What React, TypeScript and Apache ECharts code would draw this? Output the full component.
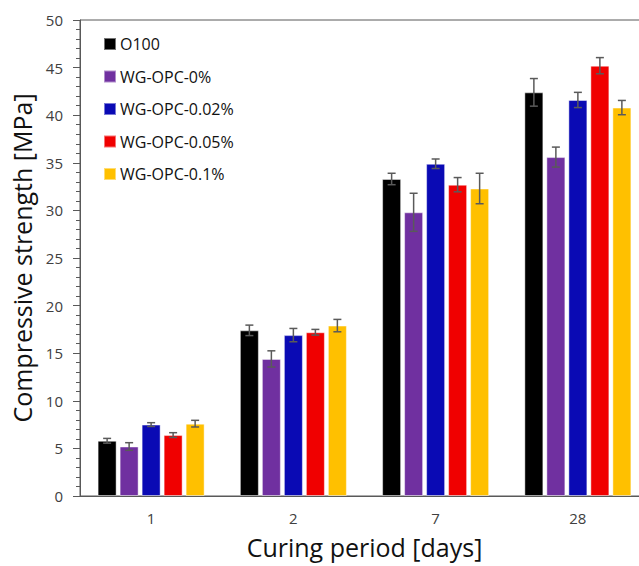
import React, { useEffect, useRef } from "react";
import * as echarts from "echarts";

const categories = ["1", "2", "7", "28"];
const seriesNames = ["O100", "WG-OPC-0%", "WG-OPC-0.02%", "WG-OPC-0.05%", "WG-OPC-0.1%"];
const colors = ["#000000", "#7030A0", "#0A0AB4", "#F00000", "#FFC000"];

const o100 = [5.8, 17.4, 33.3, 42.4];
const o100Err = [0.25, 0.55, 0.6, 1.45];
const wg0 = [5.2, 14.4, 29.8, 35.6];
const wg0Err = [0.4, 0.85, 2.0, 1.05];
const wg002 = [7.5, 16.9, 34.9, 41.6];
const wg002Err = [0.2, 0.7, 0.5, 0.8];
const wg005 = [6.4, 17.2, 32.7, 45.2];
const wg005Err = [0.25, 0.3, 0.75, 0.85];
const wg01 = [7.6, 17.9, 32.3, 40.8];
const wg01Err = [0.35, 0.65, 1.6, 0.75];

const means = [o100, wg0, wg002, wg005, wg01];
const errs = [o100Err, wg0Err, wg002Err, wg005Err, wg01Err];

const FONT = "Open Sans";
const BAR_W = 19;
const BAR_STEP = 22;

export default function App() {
  const ref = useRef<HTMLDivElement>(null);
  useEffect(() => {
    document.body.style.margin = "0";
    document.body.style.overflow = "hidden";
    document.documentElement.style.overflow = "hidden";
    const chart = echarts.init(ref.current!, null, { renderer: "svg" });
    const barSeries = seriesNames.map((name, i) => ({
      name,
      type: "bar",
      data: means[i],
      barWidth: BAR_W,
      barGap: "15.8%",
      itemStyle: { color: colors[i], borderColor: "rgba(255,255,255,0.45)", borderWidth: 1 },
      z: 2,
    }));
    const errSeries = seriesNames.map((name, i) => ({
      name: name + "-err",
      type: "custom",
      z: 5,
      data: means[i].map((m, k) => [k, m, errs[i][k]]),
      renderItem: (params: any, api: any) => {
        const k = api.value(0);
        const m = api.value(1);
        const e = api.value(2);
        const top = api.coord([k, m + e]);
        const bot = api.coord([k, m - e]);
        const x = top[0] + (i - 2) * BAR_STEP;
        const style = { stroke: "#5a5a5a", lineWidth: 1.5 };
        return {
          type: "group",
          children: [
            { type: "line", shape: { x1: x, y1: top[1], x2: x, y2: bot[1] }, style },
            { type: "line", shape: { x1: x - 4, y1: top[1], x2: x + 4, y2: top[1] }, style },
            { type: "line", shape: { x1: x - 4, y1: bot[1], x2: x + 4, y2: bot[1] }, style },
          ],
        };
      },
    }));
    chart.setOption({
      animation: false,
      textStyle: { fontFamily: FONT },
      grid: {
        left: 80,
        right: 11,
        top: 20,
        bottom: 70,
        show: true,
        borderColor: "#595959",
        borderWidth: 1,
        backgroundColor: "transparent",
      },
      legend: {
        data: seriesNames,
        orient: "vertical",
        left: 98,
        top: 29,
        itemWidth: 12,
        itemGap: 12.5,
        itemHeight: 12,
        icon: "rect",
        textStyle: { fontFamily: FONT, fontSize: 16, color: "#111", lineHeight: 20, padding: [0, 0, 0, -1] },
      },
      xAxis: {
        type: "category",
        data: categories,
        name: "Curing period [days]",
        nameLocation: "middle",
        nameGap: 38,
        nameTextStyle: { fontFamily: FONT, fontSize: 25, color: "#111" },
        axisLine: { lineStyle: { color: "#595959", width: 1 } },
        axisTick: { alignWithLabel: true, length: 5, lineStyle: { color: "#595959" } },
        axisLabel: { fontFamily: FONT, fontSize: 15, color: "#404040", margin: 14 },
      },
      yAxis: {
        type: "value",
        min: 0,
        max: 50,
        interval: 5,
        name: "Compressive strength [MPa]",
        nameLocation: "middle",
        nameGap: 44,
        nameTextStyle: { fontFamily: FONT, fontSize: 25, color: "#111" },
        axisLine: { show: true, lineStyle: { color: "#595959", width: 1 } },
        axisTick: { show: true, length: 7, lineStyle: { color: "#595959" } },
        minorTick: { show: true, splitNumber: 5, length: 4, lineStyle: { color: "#595959" } },
        splitLine: { show: false },
        axisLabel: { fontFamily: FONT, fontSize: 15, color: "#404040", margin: 17 },
      },
      series: [...barSeries, ...errSeries],
    });
    return () => chart.dispose();
  }, []);
  return <div ref={ref} style={{ width: 660, height: 566 }} />;
}
